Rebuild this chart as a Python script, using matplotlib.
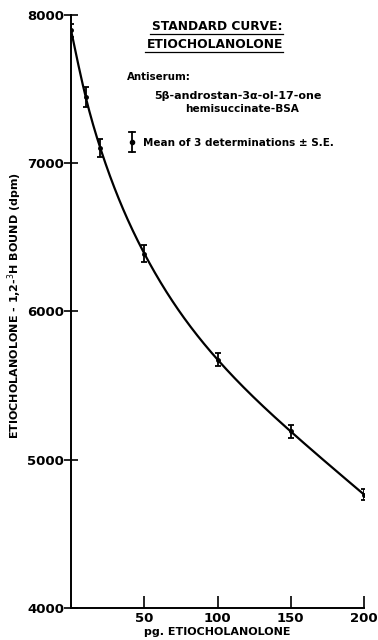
import numpy as np
import matplotlib
matplotlib.use("Agg")
import matplotlib.pyplot as plt

# Data
dose_pg = [0, 10, 20, 50, 100, 150, 200]
bound_dpm = [7895, 7445, 7100, 6390, 5675, 5190, 4765]
se_dpm = [45, 70, 60, 60, 45, 45, 40]
x_ticks = [50, 100, 150, 200]
y_ticks = [4000, 5000, 6000, 7000, 8000]


def natural_spline(x, y, xs):
    x = np.asarray(x, float); y = np.asarray(y, float)
    n = len(x)
    h = np.diff(x)
    A = np.zeros((n, n)); b = np.zeros(n)
    A[0, 0] = 1; A[-1, -1] = 1
    for i in range(1, n - 1):
        A[i, i - 1] = h[i - 1]
        A[i, i] = 2 * (h[i - 1] + h[i])
        A[i, i + 1] = h[i]
        b[i] = 3 * ((y[i + 1] - y[i]) / h[i] - (y[i] - y[i - 1]) / h[i - 1])
    c = np.linalg.solve(A, b)
    out = np.empty_like(xs)
    for k, xv in enumerate(xs):
        i = min(np.searchsorted(x, xv, side="right") - 1, n - 2)
        i = max(i, 0)
        dx = xv - x[i]
        bb = (y[i + 1] - y[i]) / h[i] - h[i] * (2 * c[i] + c[i + 1]) / 3
        d = (c[i + 1] - c[i]) / (3 * h[i])
        out[k] = y[i] + bb * dx + c[i] * dx ** 2 + d * dx ** 3
    return out


fig = plt.figure(figsize=(3.78, 6.4), dpi=100)
ax = fig.add_axes([0.188, 0.05, 0.775, 0.927])

xs = np.linspace(min(dose_pg), max(dose_pg), 400)
ax.plot(xs, natural_spline(dose_pg, bound_dpm, xs), color="black", lw=1.6)
ax.errorbar(dose_pg, bound_dpm, yerr=se_dpm, fmt="o", ms=2.5, color="black",
            ecolor="black", elinewidth=1.3, capsize=2.5, capthick=1.3)

ax.set_xlim(0, 200)
ax.set_ylim(4000, 8000)
ax.set_xticks(x_ticks)
ax.set_yticks(y_ticks)
ax.spines["top"].set_visible(False)
ax.spines["right"].set_visible(False)
for s in ("left", "bottom"):
    ax.spines[s].set_linewidth(1.4)
ax.tick_params(axis="y", direction="inout", length=10, width=1.2, labelsize=9.5, pad=0)
ax.tick_params(axis="x", direction="in", length=9, width=1.2, labelsize=9.5, pad=3)
for lab in ax.get_xticklabels() + ax.get_yticklabels():
    lab.set_fontweight("bold")

ax.set_xlabel("pg. ETIOCHOLANOLONE", fontsize=8, fontweight="bold", labelpad=1)
ylab = ax.set_ylabel("ETIOCHOLANOLONE - 1,2-$^3$H BOUND (dpm)", fontsize=8,
                     fontweight="bold", labelpad=5)
ax.yaxis.set_label_coords(-0.16, 1 - (306 - 15) / 593)

# Annotations (figure pixel coordinates converted to fractions)
def fx(px): return px / 378
def fy(py): return 1 - py / 640

fig.text(fx(217), fy(26), "STANDARD CURVE:", ha="center", va="center",
         fontsize=8.8, fontweight="bold")
fig.text(fx(215), fy(45), "ETIOCHOLANOLONE", ha="center", va="center",
         fontsize=8.8, fontweight="bold")
fig.lines.append(plt.Line2D([fx(150), fx(283)], [fy(34), fy(34)], color="black", lw=0.9,
                            transform=fig.transFigure))
fig.lines.append(plt.Line2D([fx(145), fx(283)], [fy(52), fy(52)], color="black", lw=0.9,
                            transform=fig.transFigure))
fig.text(fx(127), fy(77), "Antiserum:", ha="left", va="center", fontsize=7.4,
         fontweight="bold")
fig.text(fx(238), fy(96), "5β-androstan-3α-ol-17-one", ha="center", va="center",
         fontsize=8, fontweight="bold")
fig.text(fx(242), fy(109), "hemisuccinate-BSA", ha="center", va="center",
         fontsize=7.6, fontweight="bold")
# legend symbol
fig.lines.append(plt.Line2D([fx(132), fx(132)], [fy(132), fy(152)], color="black", lw=1.3,
                            transform=fig.transFigure))
for yy in (132, 152):
    fig.lines.append(plt.Line2D([fx(129), fx(135)], [fy(yy), fy(yy)], color="black",
                                lw=1.3, transform=fig.transFigure))
fig.lines.append(plt.Line2D([fx(132)], [fy(142)], marker="o", ms=3, color="black",
                            transform=fig.transFigure))
fig.text(fx(143), fy(143), "Mean of 3 determinations ± S.E.", ha="left", va="center",
         fontsize=7.5, fontweight="bold")

fig.savefig("out.png", dpi=100)
